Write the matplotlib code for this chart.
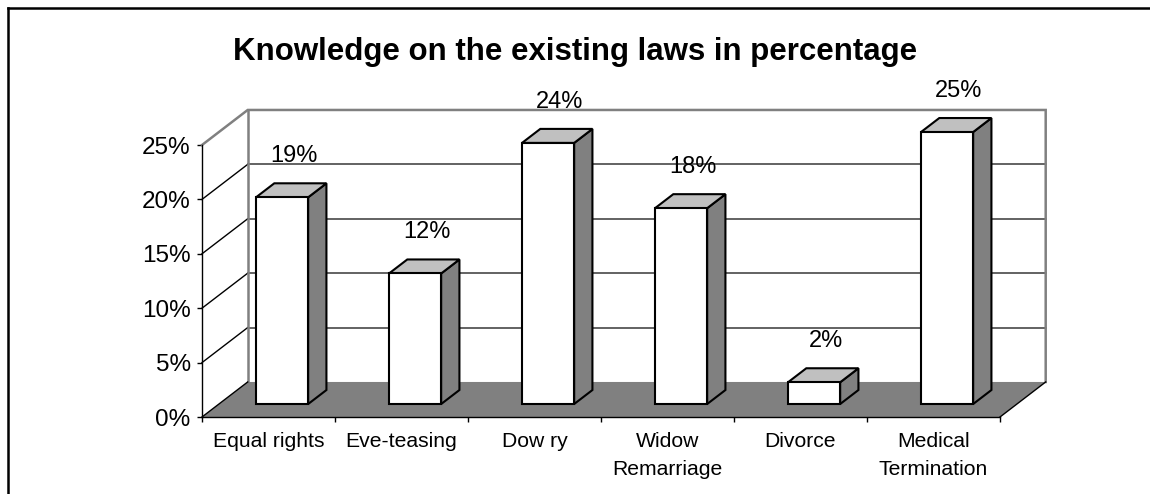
import matplotlib
matplotlib.use('Agg')
import matplotlib.pyplot as plt
from matplotlib.patches import Polygon
from matplotlib.lines import Line2D
import numpy as np

# ---- data ----
categories = ['Equal rights', 'Eve-teasing', 'Dow ry', 'Widow\nRemarriage', 'Divorce', 'Medical\nTermination']
values = [19, 12, 24, 18, 2, 25]
yticks = [0, 5, 10, 15, 20, 25]
ytick_labels = ['0%', '5%', '10%', '15%', '20%', '25%']
value_labels = ['19%', '12%', '24%', '18%', '2%', '25%']
title = 'Knowledge on the existing laws in percentage'

plt.rcParams['font.family'] = ['Liberation Sans', 'DejaVu Sans']

W, H = 1150, 494
fig = plt.figure(figsize=(W / 100, H / 100), dpi=100)
ax = fig.add_axes([202 / W, 77 / H, 798 / W, 272 / H])
n = len(categories)
ymax = yticks[-1]
ax.set_xlim(0, n)
ax.set_ylim(0, ymax)

# depth offset of the 3D box (in data units)
DX, DY = 0.3436, 3.22
kw = dict(clip_on=False)

# back wall and side wall
ax.add_patch(Polygon([(DX, DY), (n + DX, DY), (n + DX, ymax + DY), (DX, ymax + DY)],
                     closed=True, fc='white', ec='none', zorder=1, **kw))
ax.add_patch(Polygon([(0, 0), (DX, DY), (DX, ymax + DY), (0, ymax)],
                     closed=True, fc='white', ec='none', zorder=1, **kw))
for t in yticks[1:-1]:
    ax.plot([DX, n + DX], [t + DY, t + DY], color='#383838', lw=1.1, zorder=2, **kw)
    ax.plot([0, DX], [t, t + DY], color='black', lw=1.0, zorder=2, **kw)
ax.plot([0, DX, n + DX, n + DX], [ymax, ymax + DY, ymax + DY, DY],
        color='#808080', lw=1.8, zorder=2, solid_joinstyle='miter', **kw)
ax.plot([DX, DX], [DY, ymax + DY], color='#808080', lw=1.8, zorder=2, **kw)

# floor
ax.add_patch(Polygon([(0, 0), (n, 0), (n + DX, DY), (DX, DY)],
                     closed=True, fc='#808080', ec='none', zorder=3, **kw))
ax.plot([0, DX], [0, DY], color='black', lw=1.0, zorder=3.5, **kw)
ax.plot([n, n + DX], [0, DY], color='black', lw=1.0, zorder=3.5, **kw)

# bars
boff, bw = 0.279, 0.392
f0, bd = 0.37, 0.40
ekw = dict(ec='black', lw=1.5, joinstyle='miter', zorder=5, **kw)
for i, v in enumerate(values):
    x0 = i + boff + f0 * DX
    y0 = f0 * DY
    x1 = x0 + bw
    ddx, ddy = bd * DX, bd * DY
    ax.add_patch(Polygon([(x1, y0), (x1 + ddx, y0 + ddy), (x1 + ddx, y0 + v + ddy), (x1, y0 + v)],
                         closed=True, fc='#808080', **ekw))
    ax.add_patch(Polygon([(x0, y0 + v), (x1, y0 + v), (x1 + ddx, y0 + v + ddy), (x0 + ddx, y0 + v + ddy)],
                         closed=True, fc='#C0C0C0', **ekw))
    ax.add_patch(Polygon([(x0, y0), (x1, y0), (x1, y0 + v), (x0, y0 + v)],
                         closed=True, fc='white', **ekw))
    ax.text(x0 + bw / 2 + 0.09, y0 + v + 3.8, value_labels[i], ha='center', va='center',
            fontsize=17, color='black', zorder=6)

# axes
for s in ['top', 'right']:
    ax.spines[s].set_visible(False)
ax.spines['left'].set_color('black')
ax.spines['bottom'].set_color('black')
ax.spines['left'].set_linewidth(1.0)
ax.spines['bottom'].set_linewidth(1.0)
ax.spines['left'].set_zorder(4)
ax.spines['bottom'].set_zorder(4)
ax.set_yticks(yticks)
ax.set_yticklabels(ytick_labels, fontsize=17.5)
ax.tick_params(axis='y', length=3.6, width=1.0, pad=4.5, color='black')
ax.set_xticks(np.arange(n + 1))
ax.set_xticklabels([''] * (n + 1))
ax.tick_params(axis='x', which='major', length=3.6, width=1.0, direction='out', color='black')
ax.set_xticks(np.arange(n) + 0.5, minor=True)
ax.set_xticklabels(categories, minor=True, fontsize=15.2, linespacing=1.6)
ax.tick_params(axis='x', which='minor', length=0, pad=10.5)
ax.patch.set_visible(False)

# title
fig.text(0.5, 1 - 60 / H, title, ha='center', va='baseline', fontsize=22.5, fontweight='bold')

# outer border (left & top visible)
fig.add_artist(Line2D([8 / W, 8 / W], [0, 1 - 8 / H], transform=fig.transFigure, color='black', lw=1.8))
fig.add_artist(Line2D([8 / W, 1], [1 - 8 / H, 1 - 8 / H], transform=fig.transFigure, color='black', lw=1.8))

fig.savefig('out.png', dpi=100)
